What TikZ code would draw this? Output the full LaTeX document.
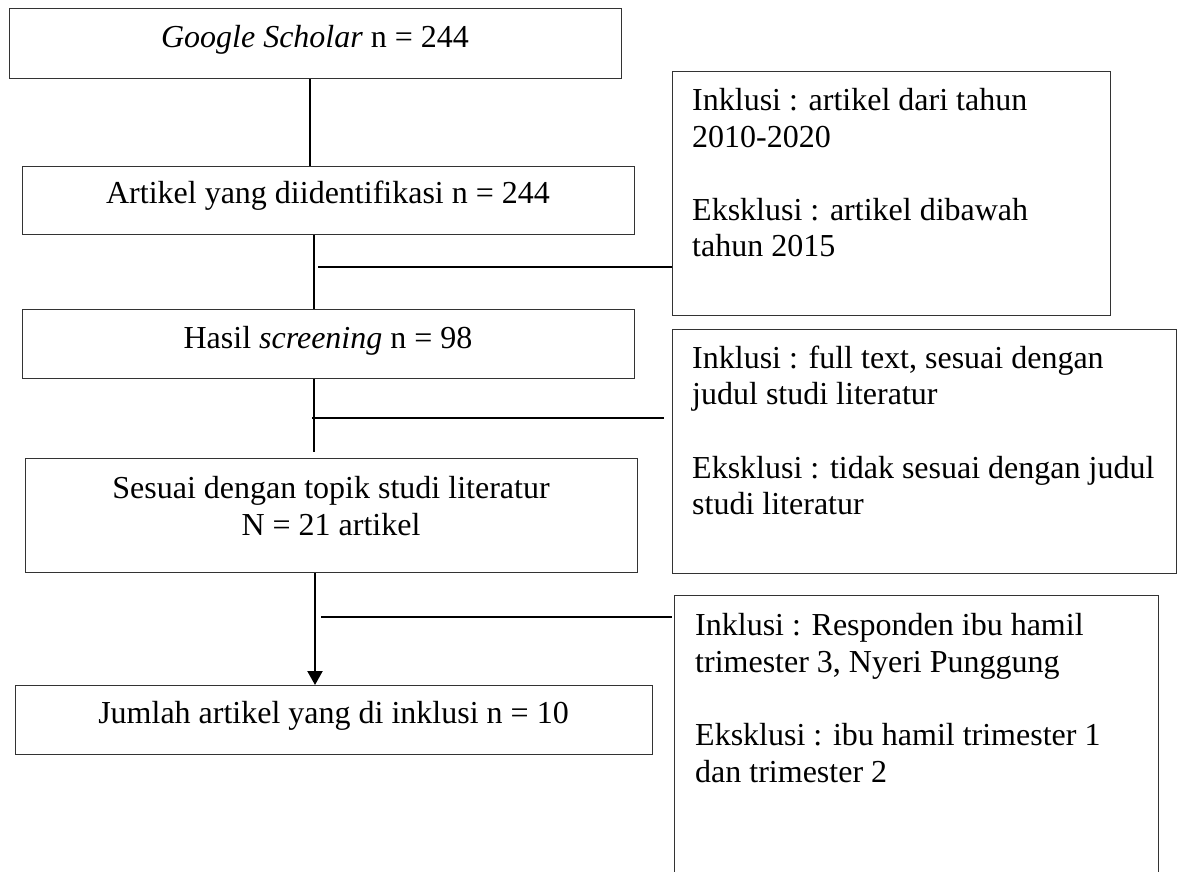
\documentclass[tikz,border=0pt]{standalone}
\usepackage{fontspec}
\setmainfont{Liberation Serif}
\usetikzlibrary{arrows.meta}
\tikzset{
  box/.style={draw=black!80, line width=1.1pt, inner sep=0pt, anchor=north west, rectangle},
  txt/.style={inner sep=0pt, font=\fontsize{32}{36.8}\selectfont},
  ctxt/.style={txt, anchor=base},
  ltxt/.style={txt, anchor=base west},
  conn/.style={draw=black, line width=2.2pt},
  arr/.style={conn, -{Triangle[length=14pt,width=15pt]}}
}
\begin{document}
\begin{tikzpicture}[x=1pt,y=-1pt]
\useasboundingbox (0,0) rectangle (1178,872);
\clip (0,0) rectangle (1178,872);
\fill[white] (0,0) rectangle (1178,872);
% left column boxes
\node[box, minimum width=612pt, minimum height=70pt] (b1) at (9,8) {};
\node[box, minimum width=612pt, minimum height=68pt] (b2) at (22,166) {};
\node[box, minimum width=612pt, minimum height=69pt] (b3) at (22,309) {};
\node[box, minimum width=612pt, minimum height=114pt] (b4) at (25,458) {};
\node[box, minimum width=637pt, minimum height=69pt] (b5) at (15,685) {};
% right column boxes
\node[box, minimum width=438pt, minimum height=244pt] (bA) at (672,71) {};
\node[box, minimum width=504pt, minimum height=244pt] (bB) at (672,329) {};
\node[box, minimum width=484pt, minimum height=300pt] (bC) at (674,595) {};
% left texts
\node[ctxt] (t1) at (315,48) {\textit{Google Scholar} n = 244};
\node[ctxt] (t2) at (328,203) {Artikel yang diidentifikasi n = 244};
\node[ctxt] (t3) at (328,348) {Hasil \textit{screening} n = 98};
\node[ctxt] (t4a) at (331,498) {Sesuai dengan topik studi literatur};
\node[ctxt] (t4b) at (331,535) {N = 21 artikel};
\node[ctxt] (t5) at (333.5,723) {Jumlah artikel yang di inklusi n = 10};
% right texts
\node[ltxt] (a1) at (692,111) {Inklusi : artikel dari tahun};
\node[ltxt] (a2) at (692,147) {2010-2020};
\node[ltxt] (a3) at (692,220) {Eksklusi : artikel dibawah};
\node[ltxt] (a4) at (692,256) {tahun 2015};
\node[ltxt] (c1) at (692,368) {Inklusi : full text, sesuai dengan};
\node[ltxt] (c2) at (692,404) {judul studi literatur};
\node[ltxt] (c3) at (692,478) {Eksklusi : tidak sesuai dengan judul};
\node[ltxt] (c4) at (692,514) {studi literatur};
\node[ltxt] (d1) at (695,635) {Inklusi : Responden ibu hamil};
\node[ltxt] (d2) at (695,672) {trimester 3, Nyeri Punggung};
\node[ltxt] (d3) at (695,745) {Eksklusi : ibu hamil trimester 1};
\node[ltxt] (d4) at (695,782) {dan trimester 2};
% connector helper coordinates
\coordinate (xa) at (310,0);
\coordinate (xb) at (314,0);
\coordinate (xc) at (315,0);
\coordinate (e3) at (314,452);
\coordinate (j1) at (318,267);
\coordinate (j2) at (312,418);
\coordinate (k2) at (664,418);
\coordinate (j3) at (321,617);
% connectors
\draw[conn] (b1.south -| xa) -- (b2.north -| xa);
\draw[conn] (b2.south -| xb) -- (b3.north -| xb);
\draw[conn] (j1) -- (j1 -| bA.west);
\draw[conn] (b3.south -| xb) -- (e3);
\draw[conn] (j2) -- (k2);
\draw[arr] (b4.south -| xc) -- (b5.north -| xc);
\draw[conn] (j3) -- ([xshift=-2pt]j3 -| bC.west);
\end{tikzpicture}
\end{document}
